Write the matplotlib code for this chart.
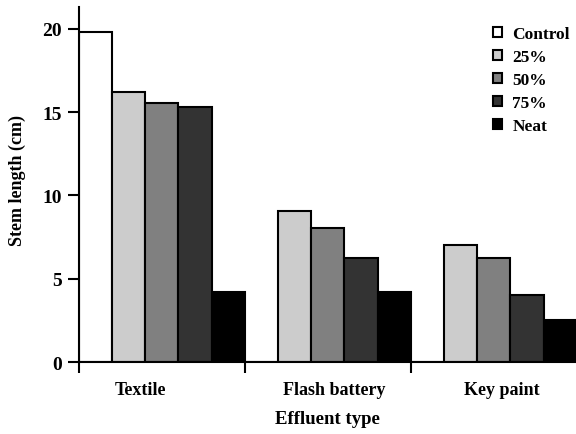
import numpy as np
import matplotlib.pyplot as plt
from matplotlib.patches import Patch

plt.rcParams['font.family'] = ['Liberation Serif', 'DejaVu Serif']
plt.rcParams['font.weight'] = 'bold'
plt.rcParams['axes.labelweight'] = 'bold'

effluents = ['Textile', 'Flash battery', 'Key paint']
levels = ['Control', '25%', '50%', '75%', 'Neat']
colors = ['white', '#cccccc', '#808080', '#333333', 'black']

# stem length (cm) per effluent, one list per level
control = [19.8, 0, 0]
c25 = [16.2, 9.05, 7.0]
c50 = [15.55, 8.05, 6.25]
c75 = [15.3, 6.25, 4.05]
neat = [4.2, 4.2, 2.5]
series = [control, c25, c50, c75, neat]

fig = plt.figure(figsize=(5.76, 4.35), dpi=100)
ax = fig.add_axes([0.137, 0.1655, 0.863, 0.816])

w = 0.2
x = np.arange(len(effluents))
for j, vals in enumerate(series):
    ax.bar(x + w * (j + 0.5), vals, width=w, color=colors[j],
           edgecolor='black', linewidth=1.5, label=levels[j])

ax.set_xlim(0, 2.995)
ax.set_ylim(0, 21.3)
ax.set_yticks([0, 5, 10, 15, 20])
ax.set_xticks([0, 1, 2])
ax.set_xticklabels([])
ax.set_xticks([0.37, 1.54, 2.55], minor=True)
ax.set_xticklabels(effluents, minor=True, fontsize=13)
ax.tick_params(axis='x', which='minor', length=0, pad=14)
ax.tick_params(axis='x', which='major', length=8, width=1.5, direction='out')
ax.tick_params(axis='y', length=8, width=1.5, direction='out', labelsize=14, pad=4)

for s in ['top', 'right']:
    ax.spines[s].set_visible(False)
for s in ['left', 'bottom']:
    ax.spines[s].set_linewidth(1.5)

ax.set_ylabel('Stem length (cm)', fontsize=13)
ax.yaxis.set_label_coords(-0.107, 0.515)
ax.set_xlabel('Effluent type', fontsize=13.5)
ax.xaxis.set_label_coords(0.5, -0.135)

handles = [Patch(facecolor=c, edgecolor='black', linewidth=1.5) for c in colors]
ax.legend(handles, levels, loc='upper right', bbox_to_anchor=(1.019, 0.99),
          frameon=False, handlelength=0.5, handleheight=0.5, handletextpad=0.6,
          labelspacing=0.4, fontsize=12.5)

fig.savefig('out.png', dpi=100)
